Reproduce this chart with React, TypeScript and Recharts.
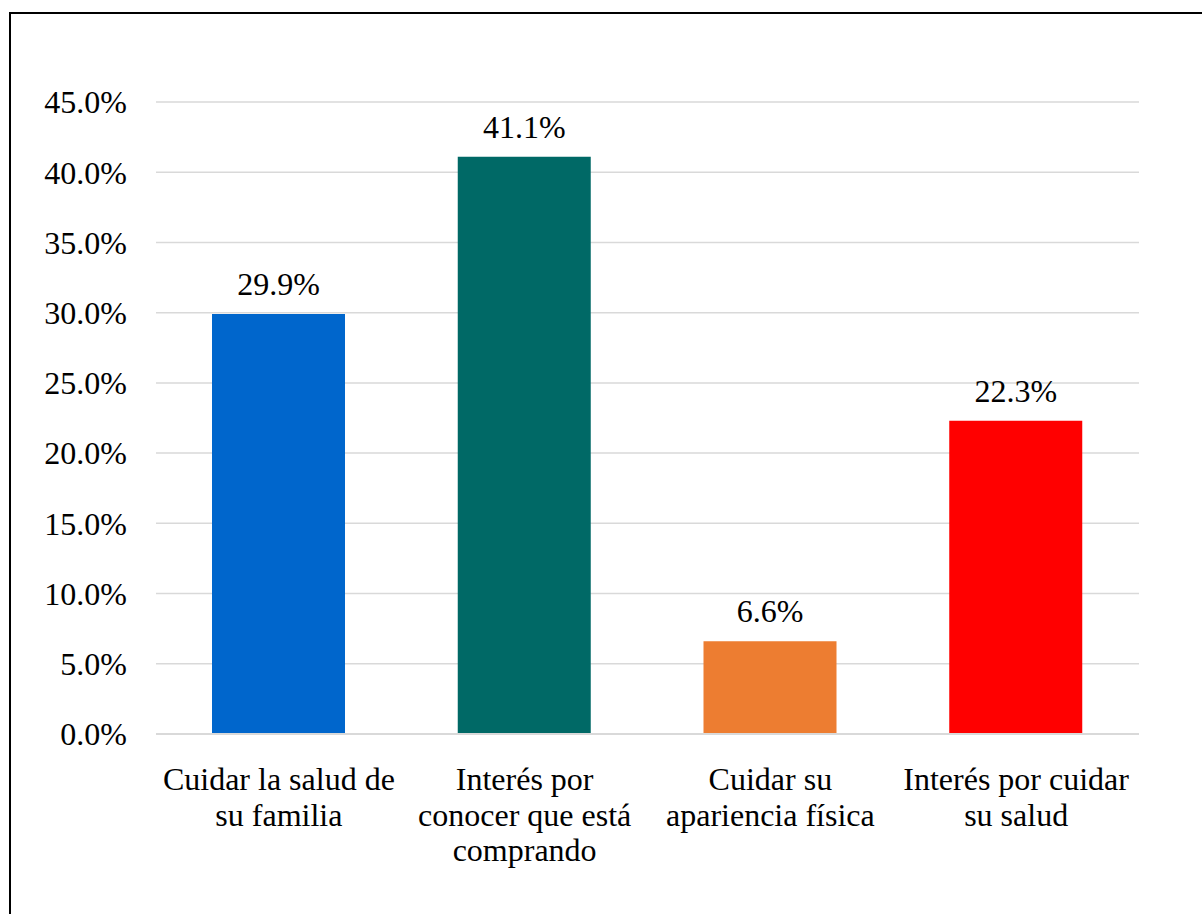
import { BarChart, Bar, XAxis, YAxis, CartesianGrid, Cell, LabelList } from "recharts";

const categories = [
  "Cuidar la salud de\nsu familia",
  "Interés por\nconocer que está\ncomprando",
  "Cuidar su\napariencia física",
  "Interés por cuidar\nsu salud",
];
const values = [29.9, 41.1, 6.6, 22.3];
const barColors = ["#0066CC", "#006966", "#ED7D31", "#FF0000"];
const yTicks = [0, 5, 10, 15, 20, 25, 30, 35, 40, 45];

const data = categories.map((name, i) => ({ name, value: values[i] }));

const FONT = "'Times New Roman', 'Liberation Serif', Tinos, serif";
const FONT_SIZE = 32;

function CategoryTick(props: any) {
  const { x, y, payload } = props;
  const lines: string[] = String(payload.value).split("\n");
  return (
    <text
      x={x}
      y={y + 48}
      textAnchor="middle"
      fill="#000"
      style={{ fontSize: FONT_SIZE, fontFamily: FONT }}
    >
      {lines.map((line, i) => (
        <tspan key={i} x={x} dy={i === 0 ? 0 : 35.5}>
          {line}
        </tspan>
      ))}
    </text>
  );
}

export default function App() {
  return (
    <div
      style={{
        position: "absolute",
        left: 0,
        top: 0,
        width: 1202,
        height: 914,
        overflow: "hidden",
        background: "#fff",
        fontFamily: FONT,
      }}
    >
      <div
        style={{
          position: "absolute",
          left: 9,
          top: 12,
          width: 1300,
          height: 1000,
          border: "2px solid #000",
        }}
      />
      <div style={{ position: "absolute", left: 0, top: 0 }}>
        <BarChart
          width={1202}
          height={914}
          data={data}
          margin={{ top: 102, right: 63, bottom: 150, left: 0 }}
          style={{ fontFamily: FONT }}
        >
          <CartesianGrid vertical={false} stroke="#d9d9d9" strokeWidth={1.5} />
          <XAxis
            dataKey="name"
            height={30}
            axisLine={{ stroke: "#d9d9d9", strokeWidth: 2 }}
            tickLine={false}
            interval={0}
            tick={<CategoryTick />}
          />
          <YAxis
            width={156}
            domain={[0, 45]}
            ticks={yTicks}
            axisLine={false}
            tickLine={false}
            tickMargin={23}
            tickFormatter={(v: number) => `${v.toFixed(1)}%`}
            tick={{ fill: "#000", fontSize: FONT_SIZE, fontFamily: FONT }}
          />
          <Bar dataKey="value" barSize={133} isAnimationActive={false}>
            {data.map((d, i) => (
              <Cell key={d.name} fill={barColors[i]} />
            ))}
            <LabelList
              dataKey="value"
              position="top"
              offset={19}
              formatter={(v: any) => `${Number(v).toFixed(1)}%`}
              style={{ fill: "#000", fontSize: FONT_SIZE, fontFamily: FONT }}
            />
          </Bar>
        </BarChart>
      </div>
    </div>
  );
}
